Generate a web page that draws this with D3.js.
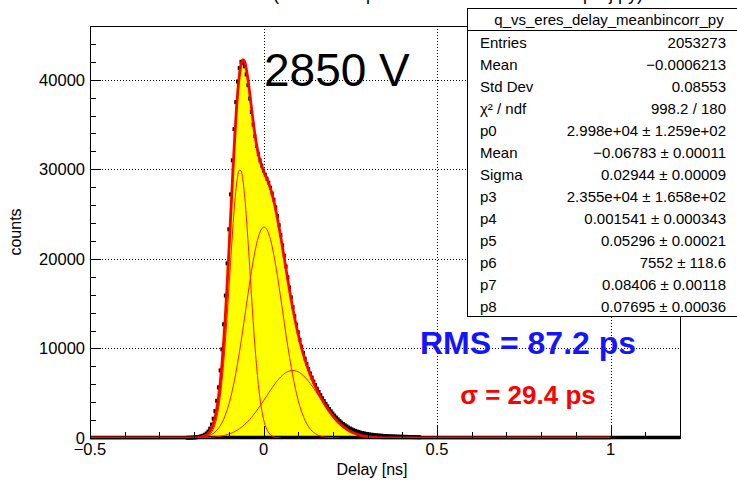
<!DOCTYPE html>
<html lang="en">
<head>
<meta charset="UTF-8">
<script src="https://d3js.org/d3.v7.min.js"></script>
<style>
  body { margin: 0; background: #fff; }
  svg { display: block; font-family: "Liberation Sans", Arial, sans-serif; }
</style>
</head>
<body>
<div id="chart"></div>
<script>
// histogram bins (width 0.005 ns), counts
const binStart = -0.22;
const binWidth = 0.005;
const counts = [
  20, 25, 30, 40, 55, 75, 100, 140, 190, 260, 360, 500, 720, 1050, 1500, 2150, 3000, 4150, 5650, 7550,
  9900, 12700, 15900, 19500, 23300, 27200, 31000, 34500, 37500, 39800, 41300, 42000, 41900, 41500, 40600, 39400,
  37900, 36400, 35000, 33700, 32600, 31700, 31000, 30400,
  29850, 29400, 28950, 28500, 27950, 27300, 26600, 25750, 24800, 23750, 22650, 21500, 20350, 19150, 17950, 16800,
  15700, 14600, 13600, 12650, 11800, 10950, 10200, 9500, 8850, 8250, 7700, 7200, 6750, 6300, 5900, 5500,
  5130, 4780, 4440, 4120, 3810, 3520, 3240, 2980, 2730, 2500, 2280, 2080, 1890, 1720, 1560, 1420, 1290, 1170,
  1060, 960, 870, 790, 720, 655, 600, 550, 505, 465, 430, 400, 370, 345, 320, 300, 280, 265, 250, 235,
  220, 210, 200, 190, 180, 170, 165, 155, 150, 140, 135, 130, 125, 120, 115, 110, 105, 100, 95, 90, 85
];

// fit curves, same grid as the bins
const fitRange = [-0.5, 1.0];
const fitTotal = [
  7, 10, 13, 19, 26, 37, 52, 76, 108, 157, 229, 337, 497, 733, 1077, 1569, 2257, 3202, 4460, 6095,
  8151, 10665, 13624, 16994, 20682, 24560, 28448, 32165, 35499, 38285, 40371, 41696, 42232, 42060, 41275, 40053,
  38547, 36942, 35366, 33943, 32714, 31719, 30928, 30313,
  29807, 29362, 28915, 28422, 27852, 27180, 26405, 25514, 24540, 23469, 22353, 21178, 20002, 18801, 17642, 16488,
  15404, 14344, 13368, 12428, 11576, 10762, 10029, 9331, 8703, 8105, 7562, 7047, 6572, 6119, 5696, 5292,
  4909, 4546, 4198, 3872, 3553, 3258, 2970, 2708, 2449, 2219, 1989, 1790, 1592, 1421, 1252, 1111, 970, 855,
  739, 645, 553, 480, 408, 352, 295, 252, 210, 178, 147, 124, 101, 85, 69, 58, 46, 38, 30, 25, 19
];
const fitG1 = [
  0, 0, 0, 1, 1, 3, 5, 11, 21, 40, 73, 129, 223, 374, 610, 966, 1486, 2221, 3225, 4549,
  6236, 8306, 10747, 13510, 16503, 19583, 22578, 25291, 27525, 29104, 29899, 29842, 28938, 27264, 24957, 22194,
  19179, 16099, 13130, 10405, 8011, 5992, 4355, 3075, 2109, 1406, 910, 573, 350, 208, 120, 67, 37, 19, 10
];
const fitG2 = [
  4, 6, 8, 12, 17, 24, 34, 48, 66, 91, 124, 168, 225, 298, 393, 512, 662, 848, 1077, 1356,
  1691, 2091, 2563, 3112, 3747, 4470, 5285, 6194, 7196, 8285, 9454, 10692, 11985, 13315, 14662, 16003,
  17309, 18556, 19718, 20767, 21677, 22426, 22995, 23370, 23540, 23500, 23252, 22802, 22162, 21350, 20385, 19290,
  18093, 16819, 15496, 14151, 12808, 11489, 10215, 9001, 7862, 6806, 5839, 4965, 4184, 3496, 2894, 2375,
  1931, 1557, 1243, 985, 773, 601, 464, 354, 268, 201, 150, 110, 81, 58, 42, 30, 21, 15, 10, 7, 5
];
const fitG3 = [
  3, 4, 5, 6, 8, 10, 13, 17, 21, 26, 32, 40, 49, 61, 74, 91, 109, 133, 158, 190,
  224, 268, 314, 372, 432, 507, 585, 680, 778, 896, 1018, 1162, 1309, 1481, 1656, 1856,
  2059, 2287, 2518, 2771, 3026, 3301, 3578, 3868, 4158, 4456, 4753, 5047, 5340, 5622, 5900, 6157,
  6410, 6631, 6847, 7022, 7192, 7312, 7427, 7487, 7542, 7538, 7529, 7463, 7392, 7266, 7135, 6956,
  6772, 6548, 6319, 6062, 5799, 5518, 5232, 4938, 4641, 4345, 4048, 3762, 3472, 3200, 2928, 2678,
  2428, 2204, 1979, 1783, 1587, 1418, 1250, 1110, 969, 854, 738, 645, 553, 480, 408, 352,
  295, 252, 210, 178, 147, 124, 101, 85, 69, 58, 46, 38, 30, 25, 19, 15, 12, 10, 8, 6, 5, 4, 3, 2, 2
];

// axes
const xDomain = [-0.5, 1.2];
const yDomain = [0, 46000];
const xMajor = [-0.5, 0, 0.5, 1];
const xMajorLabels = ["\u22120.5", "0", "0.5", "1"];
const yMajor = [0, 10000, 20000, 30000, 40000];
const yMajorLabels = ["0", "10000", "20000", "30000", "40000"];

// stats box
const statsTitle = "q_vs_eres_delay_meanbincorr_py";
const statLabels = ["Entries", "Mean", "Std Dev", "\u03c7\u00b2 / ndf", "p0", "Mean", "Sigma",
                    "p3", "p4", "p5", "p6", "p7", "p8"];
const statValues = ["2053273", "\u22120.0006213", "0.08553", "998.2 / 180",
                    "2.998e+04 \u00b1 1.259e+02", "\u22120.06783 \u00b1 0.00011", "0.02944 \u00b1 0.00009",
                    "2.355e+04 \u00b1 1.658e+02", "0.001541 \u00b1 0.000343", "0.05296 \u00b1 0.00021",
                    "7552 \u00b1 118.6", "0.08406 \u00b1 0.00118", "0.07695 \u00b1 0.00036"];

const svg = d3.select("#chart").append("svg")
  .attr("width", 737).attr("height", 480);

const x = d3.scaleLinear().domain(xDomain).range([90, 680]);
const y = d3.scaleLinear().domain(yDomain).range([438, 26]);

const binX = i => binStart + i * binWidth;

// title (mostly off the top of the canvas)
svg.append("text")
  .attr("x", 458).attr("y", 0)
  .attr("text-anchor", "middle")
  .attr("font-size", 18)
  .text("(time vs amplitude mean bin corrected proj py)");

// grid
const grid = svg.append("g")
  .attr("stroke", "#000").attr("stroke-width", 1).attr("stroke-dasharray", "1,2");
grid.selectAll(".gx").data(xMajor.filter(d => d > xDomain[0])).join("line")
  .attr("x1", d => Math.round(x(d)) + 0.5).attr("x2", d => Math.round(x(d)) + 0.5)
  .attr("y1", y(yDomain[0])).attr("y2", y(yDomain[1]));
grid.selectAll(".gy").data(yMajor.filter(d => d > 0)).join("line")
  .attr("x1", x(xDomain[0])).attr("x2", x(xDomain[1]))
  .attr("y1", d => Math.round(y(d)) + 0.5).attr("y2", d => Math.round(y(d)) + 0.5);

// histogram fill
const area = d3.area()
  .x((d, i) => x(binX(i)))
  .y0(y(0))
  .y1(d => y(d))
  .curve(d3.curveStep);
svg.append("path").datum(counts)
  .attr("d", area)
  .attr("fill", "#ffff00");

// empty bins along zero
svg.append("line")
  .attr("x1", x(xDomain[0])).attr("x2", x(xDomain[1]))
  .attr("y1", y(0) - 0.5).attr("y2", y(0) - 0.5)
  .attr("stroke", "#000").attr("stroke-width", 3.5);

// markers
svg.append("g").selectAll("rect").data(counts).join("rect")
  .attr("x", (d, i) => x(binX(i)) - 1.5)
  .attr("y", d => y(d) - 2)
  .attr("width", 3).attr("height", 4)
  .attr("fill", "#000");

// fit components
const curveLine = d3.line()
  .x((d, i) => x(binX(i)))
  .y(d => y(d))
  .curve(d3.curveCatmullRom);
[fitG1, fitG2, fitG3].forEach(g => {
  svg.append("path").datum(g)
    .attr("d", curveLine)
    .attr("fill", "none")
    .attr("stroke", "#ff1a00")
    .attr("stroke-width", 1);
});

// total fit over the fit range
const fitPts = [[fitRange[0], 0]]
  .concat(fitTotal.map((v, i) => [binX(i), v]))
  .concat([[fitRange[1], 0]]);
svg.append("path").datum(fitPts)
  .attr("d", d3.line().x(d => x(d[0])).y(d => y(d[1])).curve(d3.curveCatmullRom))
  .attr("fill", "none")
  .attr("stroke", "#ff0000")
  .attr("stroke-width", 2.8)
  .attr("stroke-linejoin", "round");

// frame
svg.append("rect")
  .attr("x", x(xDomain[0]) + 0.5).attr("y", y(yDomain[1]) + 0.5)
  .attr("width", x(xDomain[1]) - x(xDomain[0]))
  .attr("height", y(yDomain[0]) - y(yDomain[1]))
  .attr("fill", "none").attr("stroke", "#000");

// ticks
const ticks = svg.append("g").attr("stroke", "#000").attr("stroke-width", 1);
ticks.selectAll(".ty").data(d3.range(0, yDomain[1] + 1, 2000)).join("line")
  .attr("x1", x(xDomain[0])).attr("x2", d => x(xDomain[0]) + (d % 10000 === 0 ? 11 : 6))
  .attr("y1", d => Math.round(y(d)) + 0.5).attr("y2", d => Math.round(y(d)) + 0.5);
ticks.selectAll(".tx").data(d3.range(-5, 13).map(d => d / 10)).join("line")
  .attr("x1", d => Math.round(x(d)) + 0.5).attr("x2", d => Math.round(x(d)) + 0.5)
  .attr("y1", y(0)).attr("y2", d => y(0) - (xMajor.includes(d) ? 12 : 6));

// tick labels
svg.append("g").selectAll("text").data(yMajor).join("text")
  .attr("x", 85).attr("y", d => y(d)).attr("dy", "0.36em")
  .attr("text-anchor", "end").attr("font-size", 16.5)
  .text((d, i) => yMajorLabels[i]);
svg.append("g").selectAll("text").data(xMajor).join("text")
  .attr("x", d => x(d)).attr("y", 455)
  .attr("text-anchor", "middle").attr("font-size", 16.5)
  .text((d, i) => xMajorLabels[i]);

// axis titles
svg.append("text")
  .attr("x", 372).attr("y", 475)
  .attr("text-anchor", "middle").attr("font-size", 16)
  .text("Delay [ns]");
svg.append("text")
  .attr("transform", `translate(21,${(y(0) + y(yDomain[1])) / 2}) rotate(-90)`)
  .attr("text-anchor", "middle").attr("font-size", 16)
  .text("counts");

// annotations
svg.append("text")
  .attr("x", 264).attr("y", 86)
  .attr("font-size", 46)
  .text("2850 V");
svg.append("text")
  .attr("x", 528).attr("y", 354)
  .attr("text-anchor", "middle").attr("font-size", 32).attr("font-weight", "bold")
  .attr("fill", "#1414ff")
  .text("RMS = 87.2 ps");
svg.append("text")
  .attr("x", 528).attr("y", 404)
  .attr("text-anchor", "middle").attr("font-size", 26).attr("font-weight", "bold")
  .attr("fill", "#ff0000")
  .text("\u03c3 = 29.4 ps");

// stats box
const stats = svg.append("g");
stats.append("rect")
  .attr("x", 467.5).attr("y", 8.5).attr("width", 290).attr("height", 308)
  .attr("fill", "#fff").attr("stroke", "#000");
stats.append("line")
  .attr("x1", 467.5).attr("x2", 737).attr("y1", 30.5).attr("y2", 30.5)
  .attr("stroke", "#000");
stats.append("text")
  .attr("x", 609).attr("y", 24.5)
  .attr("text-anchor", "middle").attr("font-size", 15)
  .text(statsTitle);
stats.selectAll(".sl").data(statLabels).join("text")
  .attr("x", 480).attr("y", (d, i) => 47.5 + i * 22)
  .attr("font-size", 15)
  .text(d => d);
stats.selectAll(".sv").data(statValues).join("text")
  .attr("x", 726).attr("y", (d, i) => 47.5 + i * 22)
  .attr("text-anchor", "end").attr("font-size", 15)
  .text(d => d);
</script>
</body>
</html>
